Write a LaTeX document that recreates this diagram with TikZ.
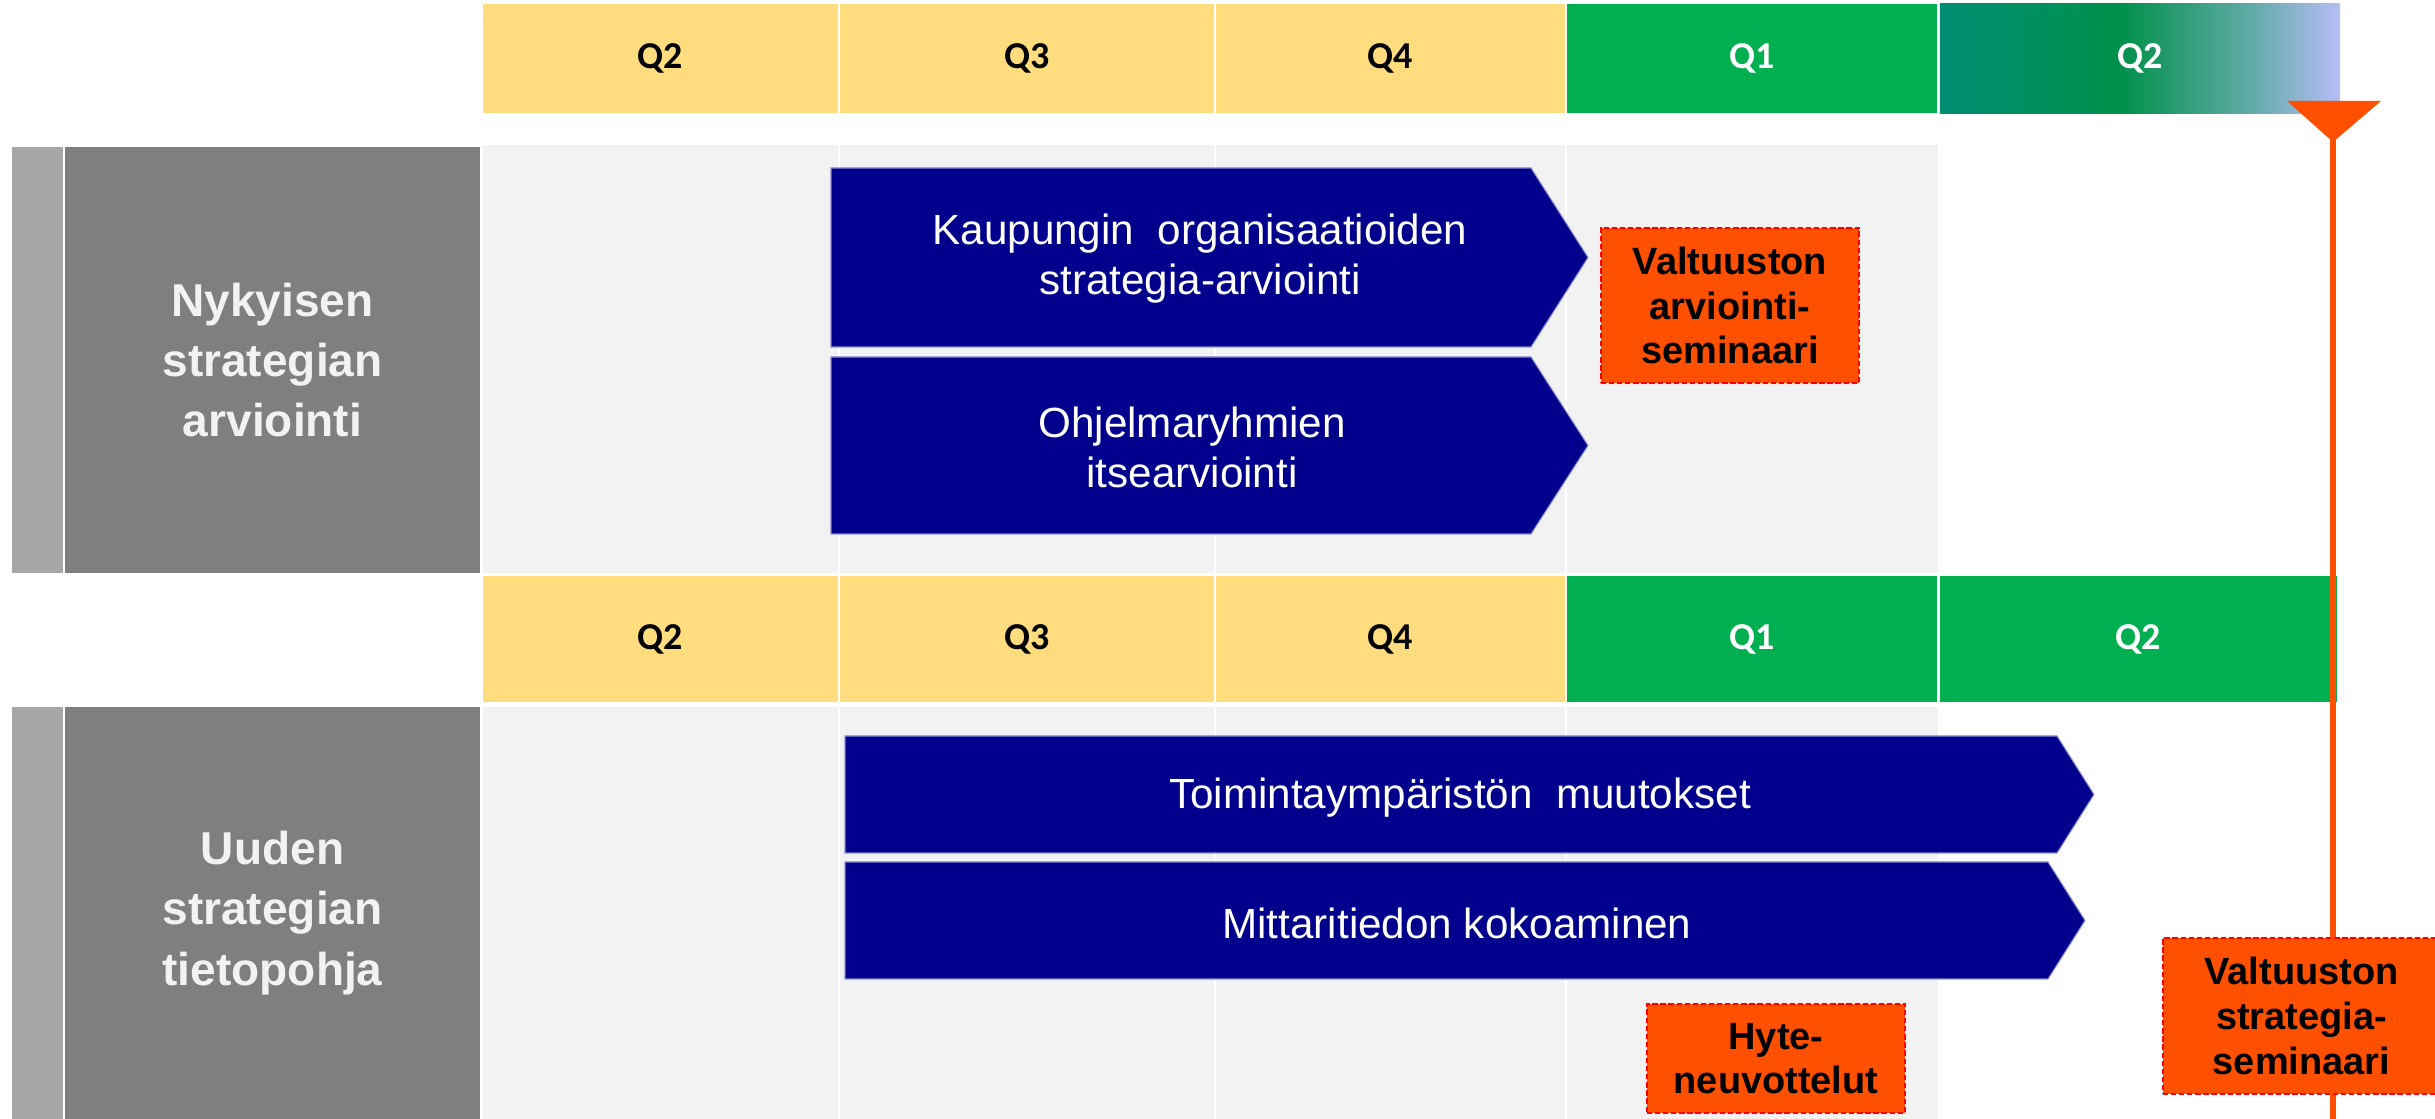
\documentclass[tikz,border=0pt]{standalone}
\usepackage{fontspec}
\setmainfont{Liberation Sans}
\newfontfamily\calib{Carlito}
\definecolor{qyellow}{HTML}{FFDC7D}
\definecolor{qgreen}{HTML}{00B050}
\definecolor{navyc}{HTML}{00008C}
\definecolor{orangec}{HTML}{FF5000}
\definecolor{bggray}{HTML}{F2F2F2}
\definecolor{darkg}{HTML}{7F7F7F}
\definecolor{lightg}{HTML}{A6A6A6}
\definecolor{gradA}{HTML}{008C72}
\definecolor{gradA2}{HTML}{008E62}
\definecolor{gradB}{HTML}{00904A}
\definecolor{gradB2}{HTML}{5CA9A2}
\definecolor{gradC}{HTML}{B5BDF5}
\definecolor{chevedge}{HTML}{8C8CC8}
\pgfdeclarehorizontalshading{qgradient}{100bp}{color(0bp)=(gradA); color(25bp)=(gradA); color(35bp)=(gradA2); color(47.5bp)=(gradB); color(63bp)=(gradB2); color(75bp)=(gradC); color(100bp)=(gradC)}
\begin{document}
\begin{tikzpicture}[x=0.01cm,y=-0.01cm,
  hbox/.style={inner sep=0pt, outer sep=0pt, font=\calib\bfseries\fontsize{10.8}{13}\selectfont},
  seclab/.style={fill=darkg, inner sep=0pt, outer sep=0pt, font=\bfseries\fontsize{13.1}{17.1}\selectfont, text=bggray, align=center},
  chevlab/.style={font=\fontsize{12}{14.2}\selectfont, text=white, align=center, inner sep=0pt},
  chevron/.style={fill=navyc, draw=chevedge, line width=0.3pt},
  evbox/.style={fill=orangec, draw=red, dash pattern=on 1.5pt off 0.8pt, line width=0.6pt, inner sep=0pt, font=\bfseries\fontsize{10.8}{12.7}\selectfont, text=black, align=center},
  colsep/.style={white, line width=0.6pt}
]
\useasboundingbox (0,0) rectangle (2435,1119);
\fill[white] (0,0) rectangle (2435,1119);

% ---------- header row 1 ----------
\node[hbox, fill=qyellow, minimum width=3.55cm, minimum height=1.09cm] (a1) at (660.5,58.5) {Q2};
\node[hbox, fill=qyellow, minimum width=3.74cm, minimum height=1.09cm] (a2) at (1027,58.5) {Q3};
\node[hbox, fill=qyellow, minimum width=3.49cm, minimum height=1.09cm] (a3) at (1390.5,58.5) {Q4};
\node[hbox, fill=qgreen, text=white, minimum width=3.70cm, minimum height=1.09cm] (a4) at (1752,58.5) {Q1};
\node[hbox, shading=qgradient, text=white, minimum width=4.00cm, minimum height=1.09cm] (a5) at (2140,58.5) {Q2};

% ---------- section 1 ----------
\fill[lightg] (12,147) rectangle (63,573);
\node[seclab, minimum width=4.15cm, minimum height=4.26cm] (s1) at (272.5,360) {Nykyisen\\strategian\\arviointi};
\fill[bggray] (483,145) rectangle (1938,573);
\foreach \xx in {839,1215,1566} \draw[colsep] (\xx,145) -- (\xx,573);

\draw[chevron] (831,168) -- (1531,168) -- (1588,257.5) -- (1531,347) -- (831,347) -- cycle;
\node[chevlab] (c1) at (1200,259) {Kaupungin\ \ organisaatioiden\\strategia-arviointi};
\draw[chevron] (831,357) -- (1531,357) -- (1588,445.5) -- (1531,534) -- (831,534) -- cycle;
\node[chevlab] (c2) at (1192,447) {Ohjelmaryhmien\\itsearviointi};

\node[evbox, minimum width=2.58cm, minimum height=1.55cm] (e1) at (1730,305.5) {Valtuuston\\arviointi-\\seminaari};

% ---------- header row 2 ----------
\node[hbox, fill=qyellow, minimum width=3.55cm, minimum height=1.26cm] (b1) at (660.5,639) {Q2};
\node[hbox, fill=qyellow, minimum width=3.74cm, minimum height=1.26cm] (b2) at (1027,639) {Q3};
\node[hbox, fill=qyellow, minimum width=3.49cm, minimum height=1.26cm] (b3) at (1390.5,639) {Q4};
\node[hbox, fill=qgreen, text=white, minimum width=3.70cm, minimum height=1.26cm] (b4) at (1752,639) {Q1};
\node[hbox, fill=qgreen, text=white, minimum width=3.97cm, minimum height=1.26cm] (b5) at (2138.5,639) {Q2};

% ---------- section 2 ----------
\fill[lightg] (12,707) rectangle (63,1119);
\node[seclab, minimum width=4.15cm, minimum height=4.12cm] (s2) at (272.5,913) {Uuden\\strategian\\tietopohja};
\fill[bggray] (483,707) rectangle (1938,1119);
\foreach \xx in {839,1215,1566} \draw[colsep] (\xx,707) -- (\xx,1119);

\draw[chevron] (845,736) -- (2057,736) -- (2094,794.5) -- (2057,853) -- (845,853) -- cycle;
\node[chevlab] (c3) at (1460,798) {Toimintaympäristön\ \ muutokset};
\draw[chevron] (845,862) -- (2048,862) -- (2085,920.5) -- (2048,979) -- (845,979) -- cycle;
\node[chevlab] (c4) at (1457,923) {Mittaritiedon kokoaminen};

\node[evbox, minimum width=2.58cm, minimum height=1.09cm] (e2) at (1776,1058.5) {Hyte-\\neuvottelut};

% ---------- milestone ----------
\coordinate (mtop) at (2333,138);
\coordinate (mbot) at (2333,1125);
\draw[orangec, line width=1.7pt] (mtop) -- (mbot);
\fill[orangec] (2287,101) -- (2381,101) -- (2333,142) -- cycle;

\node[evbox, minimum width=2.77cm, minimum height=1.56cm] (e3) at (2301.5,1016) {Valtuuston\\strategia-\\seminaari};
\end{tikzpicture}
\end{document}
